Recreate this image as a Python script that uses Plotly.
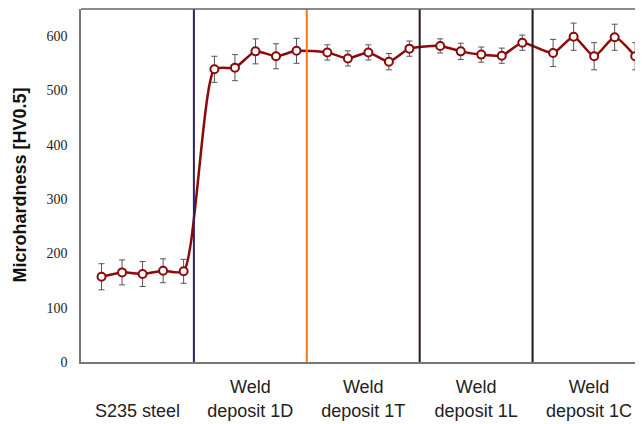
import plotly.graph_objects as go

regions = ["S235 steel", "Weld deposit 1D", "Weld deposit 1T", "Weld deposit 1L", "Weld deposit 1C"]
tick_text = ["<br>S235 steel", "Weld<br>deposit 1D", "Weld<br>deposit 1T", "Weld<br>deposit 1L", "Weld<br>deposit 1C"]
hardness = [
    [157, 165, 162, 168, 167],
    [539, 542, 572, 563, 573],
    [570, 559, 570, 553, 577],
    [582, 572, 566, 564, 588],
    [569, 599, 563, 598, 563],
]
errors = [
    [24, 23, 23, 22, 22],
    [24, 24, 23, 23, 23],
    [14, 14, 14, 15, 14],
    [13, 15, 14, 14, 14],
    [25, 25, 25, 24, 25],
]
divider_colors = ["#2e1f66", "#f07a1a", "#2a1818", "#1a1a1a"]
y_ticks = [0, 100, 200, 300, 400, 500, 600]
y_title = "Microhardness [HV0.5]"

REGION_W = 5.5
xs, ys, es = [], [], []
for i, (vals, errs) in enumerate(zip(hardness, errors)):
    for j, (v, e) in enumerate(zip(vals, errs)):
        xs.append(i * REGION_W + 1 + j)
        ys.append(v)
        es.append(e)

fig = go.Figure()
fig.add_trace(go.Scatter(
    x=xs, y=ys, mode="lines+markers",
    line=dict(color="#8b0a0a", width=2.5, shape="spline", smoothing=0.6),
    marker=dict(size=8, color="white", line=dict(color="#8b0a0a", width=2)),
    error_y=dict(type="data", array=es, visible=True, color="#555555", thickness=1, width=3),
    showlegend=False,
))

shapes = []
for k, c in enumerate(divider_colors):
    xv = (k + 1) * REGION_W
    shapes.append(dict(type="line", xref="x", yref="paper", x0=xv, x1=xv, y0=0, y1=1,
                       line=dict(color=c, width=2), layer="above"))
shapes.append(dict(type="line", xref="paper", yref="paper", x0=0, x1=1, y0=1, y1=1,
                   line=dict(color="#666666", width=1.5), layer="above"))

PLOT_W = 635 - 73
fig.update_layout(
    width=635, height=416,
    margin=dict(l=73, r=0, t=1, b=62),
    plot_bgcolor="white", paper_bgcolor="white",
    shapes=shapes,
    xaxis=dict(
        range=[0, 27.38], showgrid=False, zeroline=False, automargin=False,
        tickvals=[i * REGION_W + REGION_W / 2 for i in range(len(regions))],
        ticktext=tick_text, ticks="",
        showline=True, linecolor="#777777", linewidth=1.5,
        tickfont=dict(family="Liberation Sans, Arial", size=18, color="#222222"),
        ticklabelstandoff=8,
    ),
    yaxis=dict(
        range=[0, 650], showgrid=False, zeroline=False, automargin=False,
        tickvals=y_ticks, ticks="",
        showline=True, linecolor="#777777", linewidth=1.5,
        tickfont=dict(family="Liberation Serif, Times New Roman, serif", size=14, color="#222222"),
        ticklabelstandoff=9,
    ),
    annotations=[dict(
        text="<b>" + y_title + "</b>", xref="paper", yref="paper",
        x=-62 / PLOT_W, y=0.5, xanchor="center", yanchor="middle",
        textangle=-90, showarrow=False,
        font=dict(family="Liberation Sans, Arial", size=18, color="#111111"),
    )],
)

fig.write_html("out.html")
